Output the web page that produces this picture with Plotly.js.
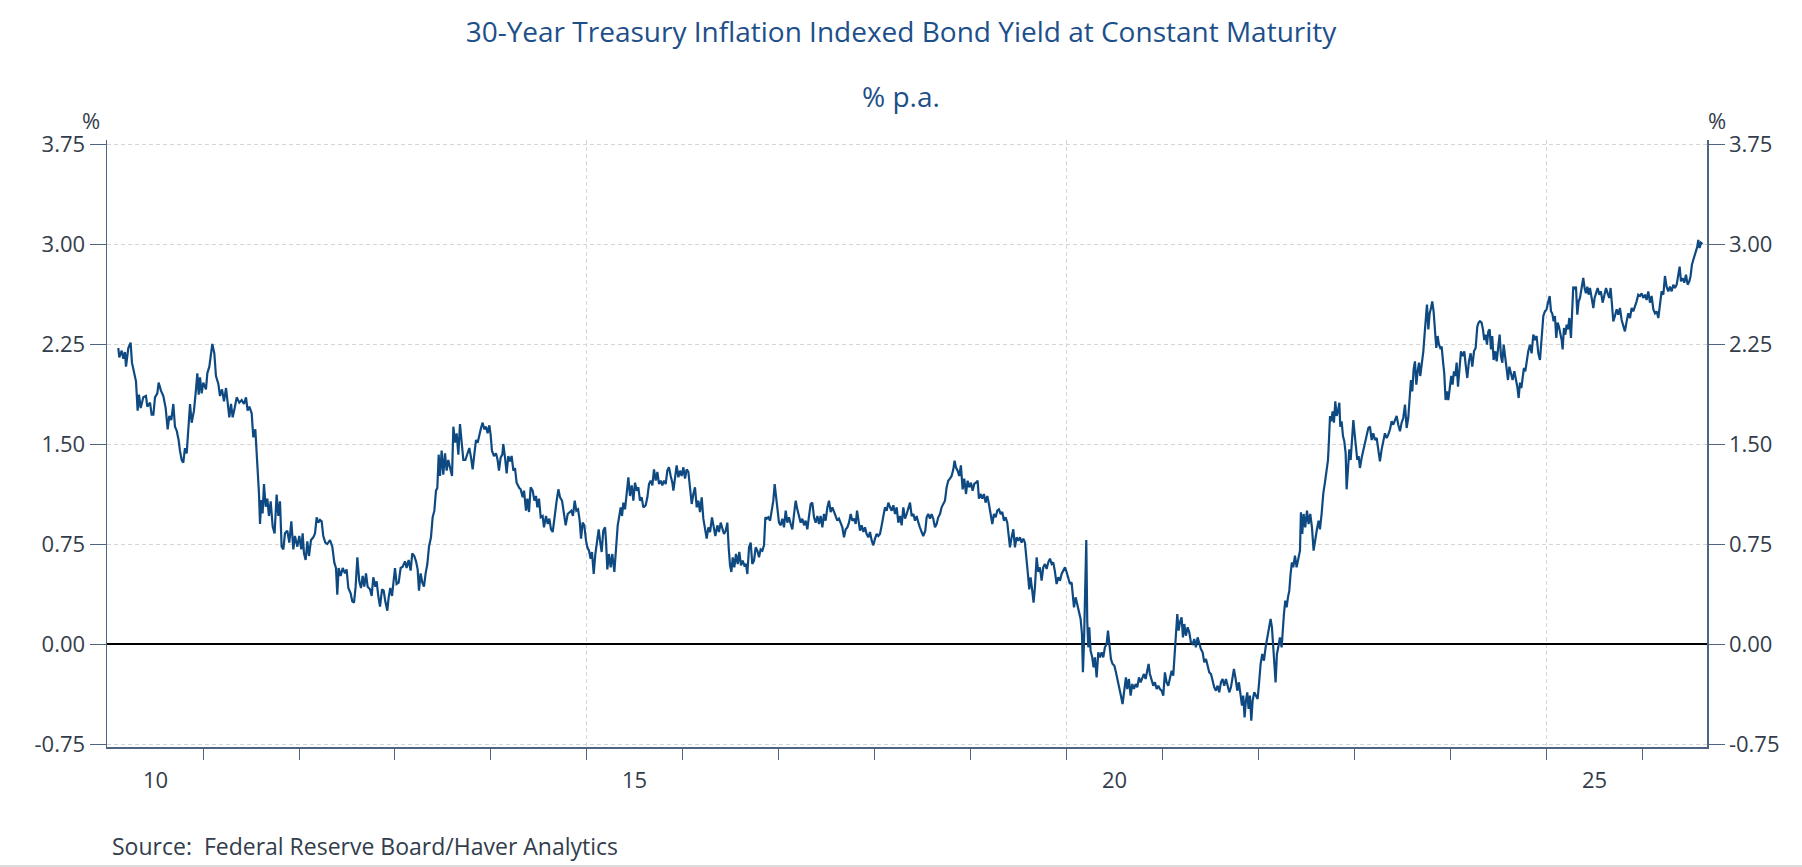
<!DOCTYPE html>
<html>
<head>
<meta charset="utf-8">
<script src="https://cdn.plot.ly/plotly-3.0.1.min.js"></script>
<style>
  html, body { margin: 0; padding: 0; background: #ffffff; }
  #chart { width: 1802px; height: 867px; }
</style>
</head>
<body>
<div id="chart"></div>
<script>
// 30-year TIPS yield (decimal year, % p.a.)
var years2010_14 = [2010.118,2010.128,2010.153,2010.170,2010.187,2010.198,2010.222,2010.246,2010.260,2010.285,2010.302,2010.319,2010.333,2010.351,2010.378,2010.406,2010.420,2010.448,2010.465,2010.483,2010.500,2010.524,2010.538,2010.562,2010.587,2010.611,2010.632,2010.649,2010.670,2010.691,2010.708,2010.726,2010.746,2010.760,2010.778,2010.795,2010.812,2010.830,2010.847,2010.865,2010.882,2010.906,2010.927,2010.941,2010.955,2010.969,2010.986,2011.003,2011.031,2011.045,2011.066,2011.080,2011.097,2011.118,2011.135,2011.160,2011.177,2011.198,2011.219,2011.240,2011.257,2011.274,2011.292,2011.309,2011.330,2011.351,2011.378,2011.403,2011.427,2011.448,2011.465,2011.483,2011.507,2011.524,2011.545,2011.559,2011.573,2011.583,2011.594,2011.608,2011.621,2011.635,2011.653,2011.670,2011.687,2011.705,2011.726,2011.746,2011.767,2011.785,2011.802,2011.819,2011.837,2011.854,2011.878,2011.899,2011.920,2011.941,2011.958,2011.983,2012.003,2012.024,2012.038,2012.052,2012.069,2012.087,2012.104,2012.125,2012.149,2012.167,2012.184,2012.201,2012.219,2012.236,2012.253,2012.274,2012.295,2012.323,2012.347,2012.368,2012.385,2012.399,2012.413,2012.434,2012.455,2012.479,2012.496,2012.514,2012.538,2012.555,2012.573,2012.590,2012.608,2012.628,2012.646,2012.663,2012.680,2012.698,2012.715,2012.740,2012.757,2012.774,2012.795,2012.809,2012.826,2012.844,2012.865,2012.882,2012.899,2012.920,2012.934,2012.951,2012.969,2012.986,2013.000,2013.017,2013.038,2013.059,2013.080,2013.104,2013.121,2013.142,2013.163,2013.180,2013.201,2013.219,2013.236,2013.250,2013.267,2013.285,2013.302,2013.319,2013.337,2013.354,2013.375,2013.392,2013.410,2013.427,2013.441,2013.455,2013.469,2013.486,2013.503,2013.521,2013.538,2013.555,2013.573,2013.594,2013.608,2013.625,2013.642,2013.660,2013.677,2013.694,2013.712,2013.733,2013.753,2013.774,2013.792,2013.809,2013.826,2013.844,2013.861,2013.878,2013.896,2013.913,2013.930,2013.948,2013.965,2013.983,2013.996,2014.010,2014.031,2014.052,2014.069,2014.083,2014.101,2014.118,2014.128,2014.146,2014.163,2014.180,2014.198,2014.215,2014.233,2014.250,2014.267,2014.295];
var yield2010_14 = [2.22,2.15,2.20,2.14,2.19,2.08,2.22,2.26,2.11,2.03,1.97,1.75,1.87,1.77,1.85,1.86,1.78,1.81,1.72,1.72,1.85,1.88,1.96,1.90,1.86,1.77,1.61,1.71,1.68,1.80,1.63,1.60,1.53,1.45,1.38,1.36,1.47,1.43,1.63,1.80,1.66,1.75,1.91,2.03,1.87,2.00,1.88,1.96,1.91,2.03,2.08,2.17,2.25,2.18,2.01,1.95,1.86,1.91,1.82,1.92,1.83,1.70,1.80,1.70,1.77,1.85,1.81,1.83,1.80,1.85,1.75,1.78,1.73,1.55,1.61,1.43,1.28,1.13,0.90,1.08,0.98,1.20,1.03,1.09,0.96,1.07,0.88,0.83,1.12,0.96,1.07,0.73,0.71,0.83,0.85,0.76,0.92,0.71,0.81,0.73,0.81,0.71,0.83,0.68,0.63,0.77,0.66,0.78,0.80,0.83,0.95,0.91,0.93,0.92,0.81,0.76,0.75,0.78,0.73,0.61,0.57,0.37,0.57,0.51,0.57,0.53,0.56,0.42,0.38,0.32,0.31,0.43,0.65,0.47,0.42,0.51,0.43,0.53,0.43,0.41,0.36,0.50,0.43,0.47,0.36,0.28,0.41,0.40,0.32,0.25,0.35,0.42,0.36,0.46,0.57,0.45,0.46,0.57,0.58,0.62,0.57,0.63,0.55,0.68,0.66,0.62,0.56,0.40,0.53,0.46,0.43,0.53,0.60,0.73,0.80,0.95,1.00,1.15,1.17,1.42,1.26,1.45,1.27,1.43,1.30,1.38,1.33,1.26,1.63,1.51,1.58,1.42,1.65,1.50,1.38,1.38,1.42,1.47,1.40,1.31,1.42,1.53,1.51,1.57,1.62,1.66,1.61,1.63,1.58,1.64,1.57,1.45,1.41,1.43,1.38,1.30,1.40,1.42,1.50,1.40,1.28,1.41,1.37,1.41,1.30,1.32,1.21,1.17];

var years2014_18 = [2014.309,2014.330,2014.344,2014.365,2014.379,2014.396,2014.413,2014.434,2014.452,2014.469,2014.483,2014.500,2014.518,2014.538,2014.552,2014.573,2014.591,2014.608,2014.625,2014.643,2014.660,2014.684,2014.702,2014.719,2014.740,2014.761,2014.778,2014.799,2014.816,2014.837,2014.854,2014.872,2014.889,2014.907,2014.924,2014.938,2014.955,2014.972,2014.990,2015.004,2015.021,2015.038,2015.052,2015.070,2015.087,2015.104,2015.122,2015.136,2015.153,2015.170,2015.188,2015.198,2015.212,2015.229,2015.247,2015.264,2015.285,2015.302,2015.320,2015.334,2015.351,2015.365,2015.379,2015.396,2015.413,2015.431,2015.448,2015.466,2015.483,2015.500,2015.518,2015.535,2015.552,2015.570,2015.587,2015.611,2015.629,2015.646,2015.663,2015.681,2015.698,2015.716,2015.733,2015.750,2015.768,2015.785,2015.802,2015.820,2015.837,2015.854,2015.872,2015.889,2015.900,2015.917,2015.934,2015.952,2015.969,2015.986,2016.004,2016.021,2016.038,2016.056,2016.073,2016.091,2016.108,2016.125,2016.143,2016.160,2016.177,2016.195,2016.212,2016.229,2016.247,2016.264,2016.282,2016.302,2016.320,2016.337,2016.358,2016.375,2016.393,2016.410,2016.427,2016.445,2016.462,2016.476,2016.490,2016.504,2016.518,2016.535,2016.552,2016.570,2016.587,2016.604,2016.622,2016.639,2016.657,2016.670,2016.688,2016.705,2016.722,2016.740,2016.757,2016.775,2016.792,2016.809,2016.827,2016.844,2016.858,2016.872,2016.889,2016.907,2016.924,2016.941,2016.955,2016.969,2016.983,2017.000,2017.018,2017.035,2017.052,2017.070,2017.087,2017.104,2017.122,2017.139,2017.157,2017.174,2017.191,2017.209,2017.226,2017.243,2017.261,2017.278,2017.295,2017.313,2017.330,2017.347,2017.365,2017.382,2017.400,2017.417,2017.434,2017.452,2017.469,2017.486,2017.504,2017.521,2017.538,2017.556,2017.573,2017.591,2017.608,2017.625,2017.643,2017.660,2017.677,2017.695,2017.712,2017.729,2017.747,2017.764,2017.782,2017.799,2017.813,2017.830,2017.844,2017.861,2017.879,2017.896,2017.913,2017.931,2017.948,2017.966,2017.983,2018.000,2018.018,2018.035,2018.052,2018.070,2018.087,2018.104,2018.122,2018.139,2018.157,2018.174,2018.191,2018.209,2018.226,2018.243,2018.261,2018.278,2018.295,2018.313,2018.330,2018.347,2018.365,2018.382,2018.400,2018.417,2018.434,2018.452,2018.462];
var yield2014_18 = [1.16,1.10,1.15,1.00,1.09,0.99,1.175,1.15,1.075,1.11,1.025,1.09,0.95,0.96,0.875,0.96,0.90,0.94,0.86,0.84,0.96,1.075,1.16,1.10,1.075,0.975,0.89,0.975,0.99,1.00,0.96,1.075,1.00,1.01,0.925,0.79,0.91,0.89,0.775,0.725,0.70,0.64,0.69,0.525,0.675,0.775,0.86,0.775,0.69,0.85,0.875,0.775,0.56,0.675,0.575,0.675,0.54,0.71,0.89,0.95,1.025,0.96,1.06,1.01,1.16,1.25,1.11,1.19,1.075,1.21,1.15,1.175,1.075,1.10,1.025,1.04,1.10,1.20,1.225,1.19,1.31,1.225,1.29,1.20,1.225,1.19,1.225,1.20,1.30,1.325,1.26,1.21,1.15,1.25,1.34,1.25,1.30,1.26,1.325,1.24,1.31,1.29,1.175,1.05,1.125,1.175,1.025,1.075,0.99,1.10,0.94,0.875,0.79,0.875,0.84,0.95,0.86,0.81,0.89,0.84,0.91,0.875,0.825,0.85,0.91,0.725,0.59,0.54,0.65,0.575,0.675,0.60,0.69,0.59,0.625,0.59,0.60,0.525,0.725,0.76,0.60,0.625,0.725,0.70,0.65,0.71,0.70,0.74,0.95,0.94,0.95,0.925,1.00,1.075,1.20,1.11,1.025,0.91,0.89,0.94,0.875,1.00,0.91,0.95,0.90,0.86,0.975,1.075,1.01,0.96,0.91,0.94,0.89,0.925,0.86,0.96,1.05,1.06,0.95,0.91,0.96,0.90,0.96,0.875,0.975,0.925,1.025,1.075,0.99,1.025,0.99,0.96,0.925,0.94,0.90,0.875,0.80,0.86,0.875,0.91,0.975,0.925,0.94,0.90,1.00,0.91,0.85,0.89,0.84,0.875,0.825,0.80,0.84,0.775,0.74,0.79,0.825,0.81,0.825,0.89,0.975,1.025,1.00,1.06,1.025,1.00,1.04,0.975,1.025,0.91,0.96,0.89,1.025,0.94,0.975,1.01,1.06,0.96,0.975,0.925,0.96,0.91,0.875];

var years2018_22 = [2018.468,2018.486,2018.503,2018.524,2018.538,2018.555,2018.573,2018.590,2018.607,2018.625,2018.642,2018.659,2018.677,2018.694,2018.711,2018.729,2018.746,2018.763,2018.781,2018.798,2018.816,2018.829,2018.843,2018.861,2018.878,2018.895,2018.913,2018.930,2018.948,2018.965,2018.982,2019.000,2019.017,2019.034,2019.052,2019.069,2019.083,2019.100,2019.118,2019.135,2019.152,2019.170,2019.187,2019.204,2019.222,2019.239,2019.257,2019.274,2019.291,2019.309,2019.326,2019.343,2019.361,2019.378,2019.392,2019.406,2019.423,2019.441,2019.458,2019.475,2019.493,2019.510,2019.527,2019.545,2019.562,2019.579,2019.593,2019.607,2019.621,2019.638,2019.652,2019.666,2019.684,2019.701,2019.718,2019.736,2019.753,2019.770,2019.788,2019.805,2019.823,2019.840,2019.857,2019.875,2019.892,2019.909,2019.927,2019.944,2019.961,2019.979,2019.996,2020.013,2020.031,2020.048,2020.059,2020.073,2020.090,2020.107,2020.125,2020.142,2020.156,2020.166,2020.177,2020.187,2020.201,2020.211,2020.222,2020.232,2020.246,2020.263,2020.277,2020.291,2020.309,2020.326,2020.343,2020.361,2020.378,2020.395,2020.413,2020.427,2020.441,2020.458,2020.475,2020.493,2020.510,2020.527,2020.545,2020.562,2020.579,2020.597,2020.614,2020.628,2020.645,2020.663,2020.680,2020.698,2020.715,2020.732,2020.750,2020.767,2020.784,2020.802,2020.819,2020.836,2020.850,2020.864,2020.882,2020.899,2020.916,2020.934,2020.951,2020.968,2020.986,2021.003,2021.020,2021.038,2021.055,2021.073,2021.090,2021.107,2021.125,2021.135,2021.149,2021.163,2021.177,2021.194,2021.208,2021.222,2021.239,2021.257,2021.274,2021.291,2021.309,2021.326,2021.343,2021.361,2021.378,2021.395,2021.413,2021.430,2021.448,2021.465,2021.482,2021.500,2021.517,2021.534,2021.552,2021.569,2021.586,2021.604,2021.621,2021.638,2021.656,2021.673,2021.691,2021.708,2021.725,2021.739,2021.757,2021.774,2021.791,2021.809,2021.823,2021.836,2021.850,2021.864,2021.878,2021.892,2021.906,2021.920,2021.934,2021.951,2021.968,2021.986,2022.003,2022.017,2022.034,2022.052,2022.069,2022.086,2022.104,2022.121,2022.135,2022.149,2022.163,2022.173,2022.187,2022.201,2022.218,2022.236,2022.246,2022.260,2022.274,2022.288,2022.302,2022.316,2022.329,2022.343,2022.357,2022.375,2022.392,2022.409,2022.427,2022.437,2022.451,2022.465,2022.482,2022.500,2022.517,2022.534,2022.552,2022.569,2022.586,2022.604,2022.621];
var yield2018_22 = [0.875,0.84,0.81,0.85,0.95,0.975,0.94,0.975,0.94,0.875,0.90,0.95,0.975,1.025,1.05,1.075,1.175,1.225,1.24,1.26,1.31,1.375,1.325,1.30,1.26,1.34,1.16,1.24,1.125,1.225,1.175,1.21,1.15,1.20,1.21,1.225,1.09,1.125,1.09,1.125,1.06,1.11,1.05,0.99,0.90,0.975,0.95,1.00,1.01,0.975,0.99,0.925,0.95,0.91,0.825,0.725,0.80,0.86,0.725,0.80,0.775,0.80,0.76,0.79,0.76,0.65,0.525,0.41,0.50,0.40,0.31,0.425,0.65,0.54,0.575,0.475,0.575,0.60,0.5625,0.6125,0.64,0.60,0.6125,0.54,0.45,0.50,0.475,0.525,0.55,0.575,0.54,0.50,0.45,0.4625,0.35,0.275,0.35,0.30,0.225,0.1875,0.075,-0.2125,0.0,0.25,0.78,0.175,-0.025,0.125,-0.05,-0.10,-0.175,-0.10,-0.25,-0.0625,-0.10,-0.0625,-0.10,-0.025,0.0,0.10,-0.025,-0.1125,-0.15,-0.1625,-0.2125,-0.2625,-0.325,-0.3875,-0.45,-0.3625,-0.25,-0.3375,-0.2625,-0.3875,-0.30,-0.3375,-0.30,-0.325,-0.25,-0.2875,-0.2625,-0.225,-0.2625,-0.1875,-0.15,-0.225,-0.275,-0.3125,-0.2875,-0.3375,-0.3125,-0.3375,-0.35,-0.3875,-0.2125,-0.2875,-0.3125,-0.2625,-0.20,-0.2375,-0.025,0.075,0.225,0.10,0.1625,0.20,0.05,0.15,0.0625,0.125,0.0875,0.0125,0.0,0.0375,-0.025,0.05,0.0,-0.0375,-0.0625,-0.1375,-0.1125,-0.175,-0.2125,-0.225,-0.2875,-0.325,-0.35,-0.3125,-0.3625,-0.2875,-0.2625,-0.3125,-0.2625,-0.325,-0.3625,-0.325,-0.25,-0.1875,-0.2625,-0.35,-0.2875,-0.375,-0.4625,-0.3875,-0.55,-0.425,-0.3625,-0.4875,-0.3875,-0.575,-0.425,-0.3625,-0.3875,-0.4125,-0.275,-0.15,-0.075,-0.125,-0.025,0.05,0.1125,0.1875,0.125,0.0,-0.175,-0.2875,-0.075,-0.025,0.05,-0.025,0.1125,0.225,0.325,0.275,0.35,0.40,0.525,0.6125,0.575,0.6625,0.575,0.65,0.70,0.9875,0.825,0.975,0.875,1.00,0.90,0.975,0.875,0.70,0.80,0.8625,0.925];

var years2022_26 = [2022.635,2022.653,2022.670,2022.687,2022.705,2022.719,2022.729,2022.740,2022.753,2022.767,2022.781,2022.795,2022.809,2022.823,2022.837,2022.847,2022.861,2022.875,2022.889,2022.903,2022.913,2022.927,2022.941,2022.955,2022.969,2022.983,2022.996,2023.010,2023.024,2023.038,2023.052,2023.069,2023.087,2023.104,2023.121,2023.139,2023.156,2023.174,2023.191,2023.208,2023.226,2023.243,2023.260,2023.278,2023.295,2023.312,2023.330,2023.347,2023.365,2023.382,2023.399,2023.417,2023.434,2023.451,2023.469,2023.486,2023.503,2023.521,2023.538,2023.555,2023.573,2023.583,2023.597,2023.611,2023.625,2023.639,2023.653,2023.667,2023.680,2023.694,2023.712,2023.726,2023.740,2023.750,2023.764,2023.778,2023.792,2023.805,2023.819,2023.833,2023.847,2023.861,2023.875,2023.889,2023.903,2023.917,2023.930,2023.944,2023.958,2023.972,2023.986,2024.003,2024.017,2024.031,2024.045,2024.059,2024.073,2024.087,2024.104,2024.121,2024.139,2024.153,2024.170,2024.187,2024.205,2024.222,2024.240,2024.257,2024.274,2024.288,2024.302,2024.319,2024.333,2024.347,2024.361,2024.375,2024.389,2024.403,2024.417,2024.430,2024.444,2024.462,2024.476,2024.493,2024.507,2024.521,2024.535,2024.549,2024.562,2024.580,2024.594,2024.608,2024.625,2024.642,2024.660,2024.677,2024.691,2024.705,2024.719,2024.733,2024.746,2024.760,2024.774,2024.788,2024.805,2024.823,2024.840,2024.858,2024.875,2024.892,2024.910,2024.927,2024.944,2024.962,2024.979,2024.996,2025.014,2025.028,2025.042,2025.055,2025.069,2025.083,2025.097,2025.111,2025.125,2025.139,2025.153,2025.163,2025.177,2025.191,2025.205,2025.219,2025.233,2025.250,2025.264,2025.274,2025.288,2025.302,2025.316,2025.330,2025.344,2025.361,2025.378,2025.392,2025.406,2025.420,2025.434,2025.448,2025.465,2025.483,2025.496,2025.510,2025.528,2025.545,2025.562,2025.580,2025.597,2025.615,2025.632,2025.649,2025.663,2025.677,2025.691,2025.708,2025.726,2025.743,2025.760,2025.778,2025.795,2025.812,2025.830,2025.847,2025.865,2025.882,2025.899,2025.917,2025.934,2025.951,2025.969,2025.986,2026.003,2026.021,2026.038,2026.055,2026.073,2026.090,2026.108,2026.125,2026.142,2026.160,2026.177,2026.194,2026.212,2026.229,2026.246,2026.264,2026.281,2026.299,2026.316,2026.333,2026.351,2026.368,2026.382,2026.396,2026.413,2026.430,2026.448,2026.465,2026.483,2026.496,2026.510,2026.524,2026.542,2026.555,2026.566,2026.576,2026.590,2026.604,2026.621];
var yield2022_26 = [0.86,0.98,1.13,1.21,1.30,1.38,1.53,1.71,1.67,1.745,1.66,1.82,1.71,1.745,1.81,1.63,1.67,1.56,1.52,1.43,1.16,1.28,1.46,1.38,1.56,1.68,1.58,1.46,1.38,1.41,1.32,1.395,1.46,1.51,1.58,1.62,1.63,1.53,1.58,1.53,1.545,1.445,1.37,1.46,1.52,1.58,1.545,1.57,1.61,1.67,1.645,1.68,1.71,1.645,1.595,1.66,1.695,1.795,1.62,1.695,1.88,1.98,1.895,2.06,2.12,1.945,2.045,2.11,2.01,2.08,2.195,2.33,2.46,2.545,2.36,2.48,2.52,2.57,2.495,2.33,2.22,2.31,2.245,2.22,2.23,2.12,2.03,1.83,1.895,1.83,1.91,2.01,1.945,2.045,2.01,2.11,1.93,2.06,2.195,2.16,2.195,2.095,1.995,2.12,2.18,2.08,2.195,2.22,2.38,2.41,2.42,2.41,2.36,2.28,2.32,2.245,2.345,2.36,2.21,2.31,2.13,2.195,2.12,2.23,2.32,2.16,2.11,2.245,2.18,2.06,1.98,2.08,2.03,1.98,2.045,1.98,1.93,1.845,1.96,1.92,2.01,2.07,2.045,2.12,2.195,2.245,2.18,2.32,2.28,2.31,2.18,2.13,2.33,2.46,2.495,2.51,2.57,2.61,2.495,2.48,2.42,2.46,2.295,2.41,2.38,2.33,2.28,2.21,2.37,2.32,2.395,2.36,2.445,2.295,2.51,2.68,2.66,2.68,2.47,2.57,2.595,2.66,2.745,2.67,2.63,2.68,2.62,2.67,2.61,2.52,2.595,2.63,2.67,2.62,2.645,2.56,2.61,2.67,2.63,2.595,2.67,2.56,2.42,2.46,2.51,2.47,2.52,2.43,2.38,2.345,2.42,2.48,2.445,2.52,2.495,2.53,2.57,2.62,2.61,2.63,2.595,2.62,2.58,2.645,2.56,2.61,2.51,2.48,2.495,2.445,2.545,2.645,2.62,2.76,2.68,2.645,2.68,2.645,2.695,2.67,2.695,2.78,2.83,2.72,2.745,2.71,2.77,2.695,2.72,2.76,2.845,2.88,2.92,2.945,2.98,3.03,2.97,3.01,3.00];

var yTickVals = [-0.75, 0, 0.75, 1.5, 2.25, 3, 3.75];
var yTickText = ['-0.75', '0.00', '0.75', '1.50', '2.25', '3.00', '3.75'];
var yearTicks = [2011,2012,2013,2014,2015,2016,2017,2018,2019,2020,2021,2022,2023,2024,2025,2026];
var gridYears = [2015, 2020, 2025];
var labelYears = [2010.5, 2015.5, 2020.5, 2025.5];
var labelText = ['10', '15', '20', '25'];

var axisColor = '#4d6580';
var textColor = '#333d4b';
var titleColor = '#1d4f8a';
var lineColor = '#0e4a81';
var fontFam = '"Open Sans", "Noto Sans", sans-serif';

var xs = years2010_14.concat(years2014_18, years2018_22, years2022_26);
var ys = yield2010_14.concat(yield2014_18, yield2018_22, yield2022_26);

var series = {
  x: xs,
  y: ys,
  type: 'scatter',
  mode: 'lines',
  line: { color: lineColor, width: 2.2 },
  hoverinfo: 'skip',
  showlegend: false
};
// empty trace so the right-hand axis gets drawn
var rightAxis = { x: [], y: [], type: 'scatter', mode: 'lines', yaxis: 'y2', hoverinfo: 'skip', showlegend: false };

var annots = [
  { text: '% p.a.', xref: 'paper', yref: 'paper', x: 0.49625, y: 1.0725, xanchor: 'center', yanchor: 'middle',
    showarrow: false, font: { family: fontFam, size: 28, color: titleColor } },
  { text: '%', xref: 'paper', yref: 'paper', x: -0.0097, y: 1.033, xanchor: 'center', yanchor: 'middle',
    showarrow: false, font: { family: fontFam, size: 22, color: textColor } },
  { text: '%', xref: 'paper', yref: 'paper', x: 1.0063, y: 1.033, xanchor: 'center', yanchor: 'middle',
    showarrow: false, font: { family: fontFam, size: 22, color: textColor } },
  { text: 'Source:  Federal Reserve Board/Haver Analytics', xref: 'paper', yref: 'paper', x: 0.0019, y: -0.163,
    xanchor: 'left', yanchor: 'middle', showarrow: false, font: { family: fontFam, size: 23, color: textColor } }
];
for (var i = 0; i < labelYears.length; i++) {
  annots.push({ text: labelText[i], xref: 'x', yref: 'paper', x: labelYears[i], y: -0.0527,
    xanchor: 'center', yanchor: 'middle', showarrow: false, font: { family: fontFam, size: 22, color: textColor } });
}

var yRange = [-0.7725, 3.78];

var layout = {
  width: 1802,
  height: 867,
  margin: { l: 107, r: 95, t: 140, b: 120 },
  paper_bgcolor: '#ffffff',
  plot_bgcolor: '#ffffff',
  font: { family: fontFam, color: textColor },
  title: {
    text: '30-Year Treasury Inflation Indexed Bond Yield at Constant Maturity',
    xref: 'container', yref: 'container', x: 0.5, y: 0.963, xanchor: 'center', yanchor: 'middle',
    font: { family: fontFam, size: 28, color: titleColor }
  },
  xaxis: {
    range: [2010, 2026.667],
    tickmode: 'array',
    tickvals: gridYears,
    showticklabels: false,
    ticks: 'outside', ticklen: 11, tickwidth: 1, tickcolor: axisColor,
    showgrid: true, gridcolor: '#d6d6d6', gridwidth: 1, griddash: '4px,3px',
    minor: { tickmode: 'array', tickvals: yearTicks, ticks: 'outside', ticklen: 11, tickwidth: 1, tickcolor: axisColor, showgrid: false },
    showline: true, linecolor: axisColor, linewidth: 1.5,
    zeroline: false, fixedrange: true
  },
  yaxis: {
    range: yRange,
    tickmode: 'array', tickvals: yTickVals, ticktext: yTickText,
    ticks: 'outside', ticklen: 16, tickwidth: 1, tickcolor: axisColor,
    tickfont: { family: fontFam, size: 22, color: textColor },
    showgrid: true, gridcolor: '#d6d6d6', gridwidth: 1, griddash: '4px,3px',
    showline: true, linecolor: axisColor, linewidth: 1.5,
    zeroline: true, zerolinecolor: '#000000', zerolinewidth: 1.3, fixedrange: true
  },
  yaxis2: {
    overlaying: 'y', side: 'right', anchor: 'x',
    range: yRange,
    tickmode: 'array', tickvals: yTickVals, ticktext: yTickText,
    ticks: 'outside', ticklen: 16, tickwidth: 1, tickcolor: axisColor,
    tickfont: { family: fontFam, size: 22, color: textColor },
    showgrid: false, zeroline: false,
    showline: true, linecolor: axisColor, linewidth: 1.5, fixedrange: true
  },
  annotations: annots,
  shapes: [
    { type: 'line', xref: 'paper', yref: 'paper', x0: -0.0669, x1: 1.0594, y0: -0.196, y1: -0.196,
      line: { color: '#dcdcdc', width: 2 } }
  ],
  hovermode: false
};

Plotly.newPlot('chart', [series, rightAxis], layout, { displayModeBar: false, staticPlot: true });
</script>
</body>
</html>
